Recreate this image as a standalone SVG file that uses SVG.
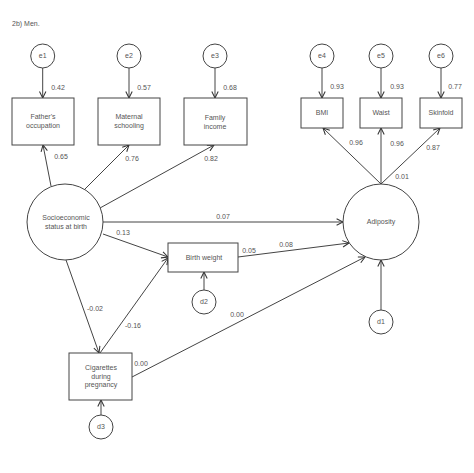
<svg xmlns="http://www.w3.org/2000/svg" width="474" height="473" viewBox="0 0 474 473">
<style>
text{font-family:"Liberation Sans",Arial,sans-serif;font-size:7px;fill:#555;text-anchor:middle;dominant-baseline:middle}
.n{fill:#fff;stroke:#444;stroke-width:1}
.c line{stroke:#444;stroke-width:1;marker-end:url(#a)}
</style>
<defs>
<marker id="a" markerUnits="userSpaceOnUse" viewBox="0 0 10 10" refX="9" refY="5" markerWidth="8" markerHeight="8" orient="auto">
<path d="M1,1 L9,5 L1,9" fill="none" stroke="#333" stroke-width="1.3"/>
</marker>
</defs>
<rect width="474" height="473" fill="#fff"/>
<text x="12" y="24" style="text-anchor:start">2b) Men.</text>
<g class="c" id="connectors">
<line x1="42.7" y1="68" x2="42.7" y2="98"/>
<line x1="129" y1="68" x2="129" y2="98"/>
<line x1="215" y1="68" x2="215" y2="98"/>
<line x1="322" y1="68" x2="322" y2="98"/>
<line x1="381" y1="68" x2="381" y2="98"/>
<line x1="441" y1="68" x2="441" y2="98"/>
<line x1="51" y1="186" x2="43" y2="145"/>
<line x1="85" y1="189" x2="129" y2="145"/>
<line x1="100" y1="208" x2="214" y2="145"/>
<line x1="103" y1="222" x2="343" y2="222"/>
<line x1="103" y1="234" x2="168" y2="257"/>
<line x1="238" y1="257" x2="349" y2="243"/>
<line x1="204" y1="290" x2="204" y2="272"/>
<line x1="66" y1="260" x2="99" y2="353"/>
<line x1="100" y1="353" x2="168" y2="258"/>
<line x1="101" y1="415" x2="101" y2="400"/>
<line x1="132" y1="377" x2="365" y2="257"/>
<line x1="381" y1="310" x2="381" y2="260"/>
<line x1="381" y1="184" x2="323" y2="128"/>
<line x1="381" y1="184" x2="381" y2="128"/>
<line x1="381" y1="184" x2="440" y2="128"/>
</g>
<g id="labels">
<text x="58" y="88">0.42</text>
<text x="144" y="88">0.57</text>
<text x="230" y="88">0.68</text>
<text x="337" y="87">0.93</text>
<text x="397" y="87">0.93</text>
<text x="455" y="87">0.77</text>
<text x="61" y="157">0.65</text>
<text x="132" y="159">0.76</text>
<text x="211" y="159">0.82</text>
<text x="223" y="217">0.07</text>
<text x="123" y="233">0.13</text>
<text x="249" y="251">0.05</text>
<text x="286" y="245">0.08</text>
<text x="95" y="309">-0.02</text>
<text x="133" y="326">-0.16</text>
<text x="141" y="364">0.00</text>
<text x="237" y="315">0.00</text>
<text x="356" y="143">0.96</text>
<text x="397" y="144">0.96</text>
<text x="433" y="148">0.87</text>
<text x="402" y="177">0.01</text>
</g>
<g id="e1"><circle class="n" cx="42.7" cy="56" r="12"/><text x="42.7" y="56">e1</text></g>
<g id="e2"><circle class="n" cx="129" cy="56" r="12"/><text x="129" y="56">e2</text></g>
<g id="e3"><circle class="n" cx="215" cy="56" r="12"/><text x="215" y="56">e3</text></g>
<g id="e4"><circle class="n" cx="322" cy="56" r="12"/><text x="322" y="56">e4</text></g>
<g id="e5"><circle class="n" cx="381" cy="56" r="12"/><text x="381" y="56">e5</text></g>
<g id="e6"><circle class="n" cx="441" cy="56" r="12"/><text x="441" y="56">e6</text></g>
<g id="fathers"><rect class="n" x="12" y="98" width="62" height="47"/><text x="43" y="117">Father's</text><text x="43" y="126">occupation</text></g>
<g id="maternal"><rect class="n" x="98" y="98" width="62" height="47"/><text x="129" y="117">Maternal</text><text x="129" y="126">schooling</text></g>
<g id="income"><rect class="n" x="184" y="98" width="63" height="47"/><text x="215" y="118">Family</text><text x="215" y="127">income</text></g>
<g id="bmi"><rect class="n" x="301" y="98" width="42" height="30"/><text x="322" y="113">BMI</text></g>
<g id="waist"><rect class="n" x="360" y="98" width="42" height="30"/><text x="381" y="113">Waist</text></g>
<g id="skinfold"><rect class="n" x="420" y="98" width="42" height="30"/><text x="441" y="113">Skinfold</text></g>
<g id="ses"><circle class="n" cx="65" cy="222" r="38"/><text x="66" y="218">Socioeconomic</text><text x="66" y="227">status at birth</text></g>
<g id="adiposity"><circle class="n" cx="381" cy="222" r="38"/><text x="381" y="222">Adiposity</text></g>
<g id="birthweight"><rect class="n" x="168" y="243" width="70" height="29"/><text x="204" y="258">Birth weight</text></g>
<g id="d2"><circle class="n" cx="204" cy="302" r="12"/><text x="204" y="302">d2</text></g>
<g id="cigarettes"><rect class="n" x="69" y="353" width="63" height="47"/><text x="101" y="368">Cigarettes</text><text x="101" y="377">during</text><text x="101" y="385">pregnancy</text></g>
<g id="d3"><circle class="n" cx="101" cy="427" r="12"/><text x="101" y="427">d3</text></g>
<g id="d1"><circle class="n" cx="381" cy="322" r="12"/><text x="381" y="322">d1</text></g>
</svg>
